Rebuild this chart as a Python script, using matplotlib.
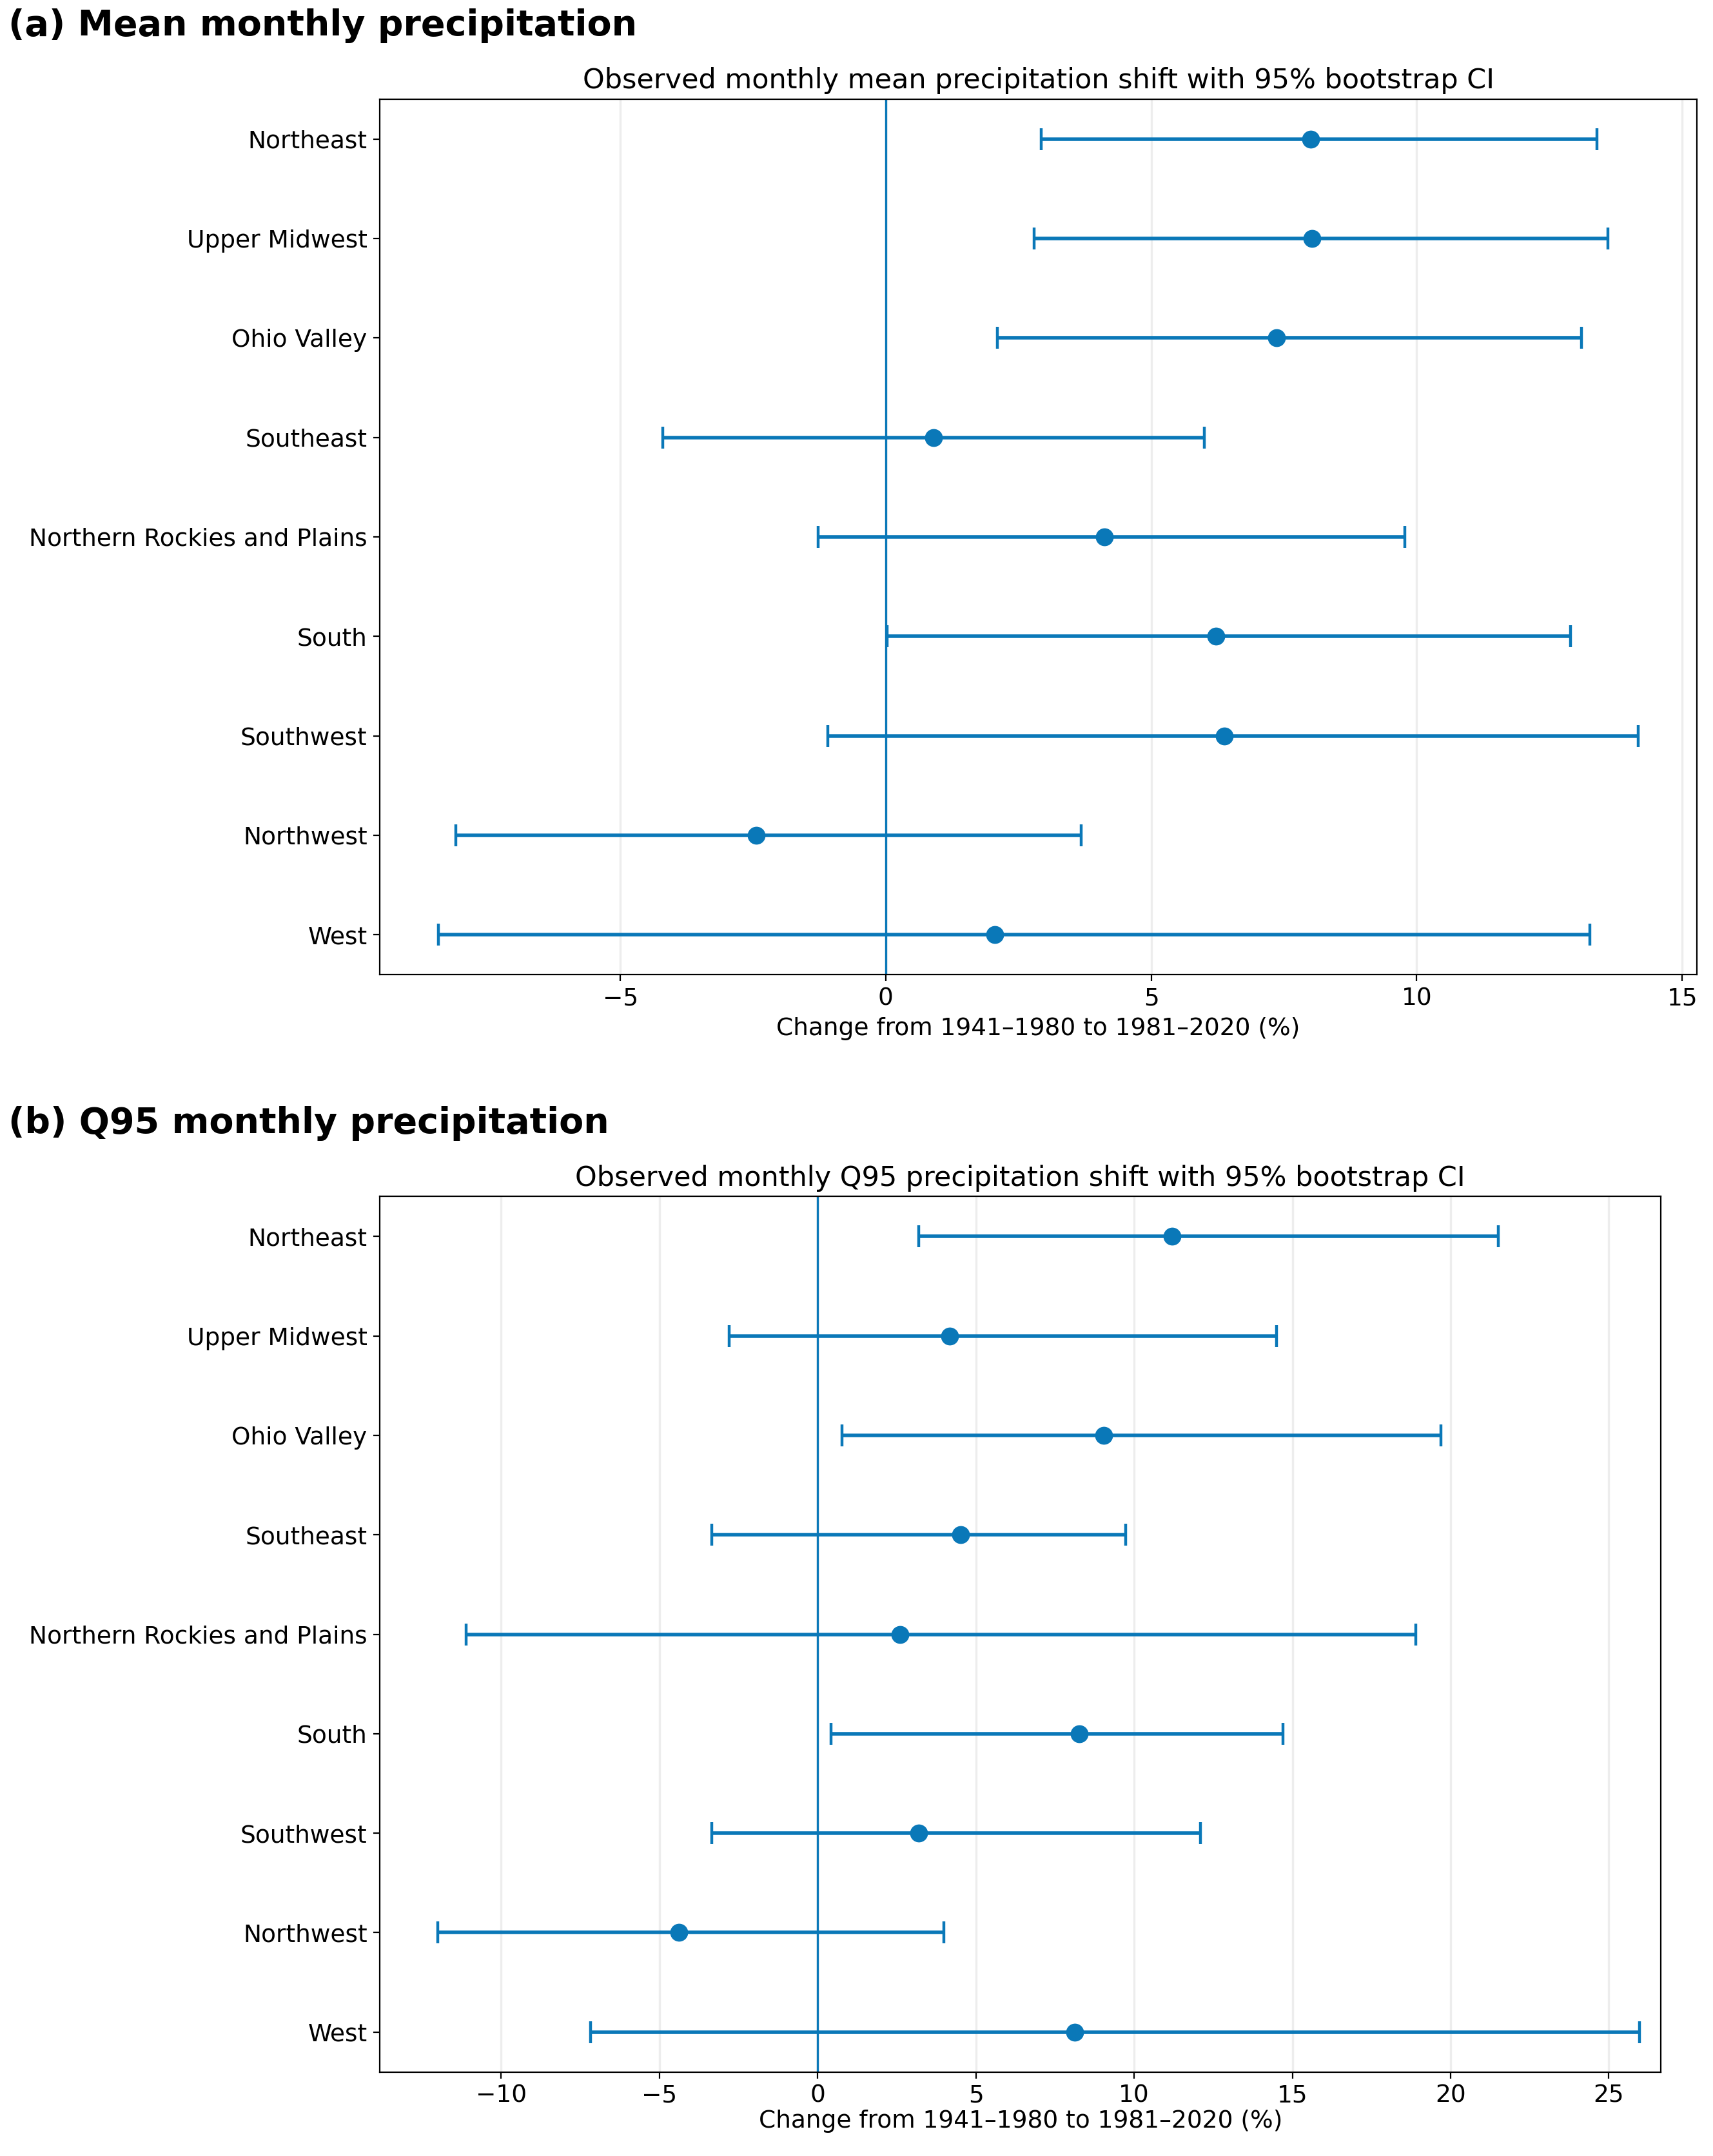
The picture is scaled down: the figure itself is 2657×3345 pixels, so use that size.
import matplotlib
matplotlib.use("Agg")
import matplotlib.pyplot as plt
import numpy as np

regions = ["Northeast", "Upper Midwest", "Ohio Valley", "Southeast",
           "Northern Rockies and Plains", "South", "Southwest", "Northwest", "West"]

# panel (a): mean monthly precipitation shift (%)
mean_pt = [8.0, 8.03, 7.36, 0.9, 4.12, 6.22, 6.37, -2.44, 2.05]
mean_lo = [2.93, 2.8, 2.1, -4.2, -1.27, 0.03, -1.09, -8.1, -8.42]
mean_hi = [13.4, 13.6, 13.1, 6.0, 9.77, 12.9, 14.17, 3.68, 13.26]

# panel (b): Q95 monthly precipitation shift (%)
q95_pt = [11.2, 4.17, 9.04, 4.52, 2.6, 8.26, 3.2, -4.39, 8.13]
q95_lo = [3.2, -2.8, 0.78, -3.35, -11.1, 0.43, -3.35, -12.0, -7.17]
q95_hi = [21.5, 14.5, 19.7, 9.74, 18.9, 14.7, 12.1, 4.0, 25.96]

color = "#0a78b8"
plt.rcParams["font.family"] = "DejaVu Sans"

fig = plt.figure(figsize=(2657 / 200, 3345 / 200), dpi=200)
ax1 = fig.add_axes([0.2217, 0.548, 0.769, 0.406])
ax2 = fig.add_axes([0.2217, 0.039, 0.748, 0.406])

def draw(ax, pt, lo, hi, title, xlim):
    y = np.arange(len(regions))[::-1]
    pt = np.array(pt); lo = np.array(lo); hi = np.array(hi)
    ax.errorbar(pt, y, xerr=[pt - lo, hi - pt], fmt="o", color=color,
                ms=9, elinewidth=2, capsize=6, capthick=1.6, zorder=3)
    ax.axvline(0, color=color, lw=1.2, zorder=2)
    ax.set_yticks(y)
    ax.set_yticklabels(regions)
    ax.set_ylim(-0.4, len(regions) - 0.6)
    ax.set_xlim(*xlim)
    ax.grid(axis="x", color="#ededed", lw=1.2)
    ax.set_axisbelow(True)
    ax.tick_params(labelsize=13.5)
    ax.set_title(title, fontsize=15.5)
    ax.set_xlabel("Change from 1941\u20131980 to 1981\u20132020 (%)", fontsize=13.5)

draw(ax1, mean_pt, mean_lo, mean_hi,
     "Observed monthly mean precipitation shift with 95% bootstrap CI", (-9.53, 15.28))
draw(ax2, q95_pt, q95_lo, q95_hi,
     "Observed monthly Q95 precipitation shift with 95% bootstrap CI", (-13.83, 26.65))
ax2.xaxis.labelpad = 1

fig.text(0.005, 0.988, "(a) Mean monthly precipitation", fontsize=20, fontweight="bold", va="center")
fig.text(0.005, 0.479, "(b) Q95 monthly precipitation", fontsize=20, fontweight="bold", va="center")

fig.savefig("out.png", dpi=200)
